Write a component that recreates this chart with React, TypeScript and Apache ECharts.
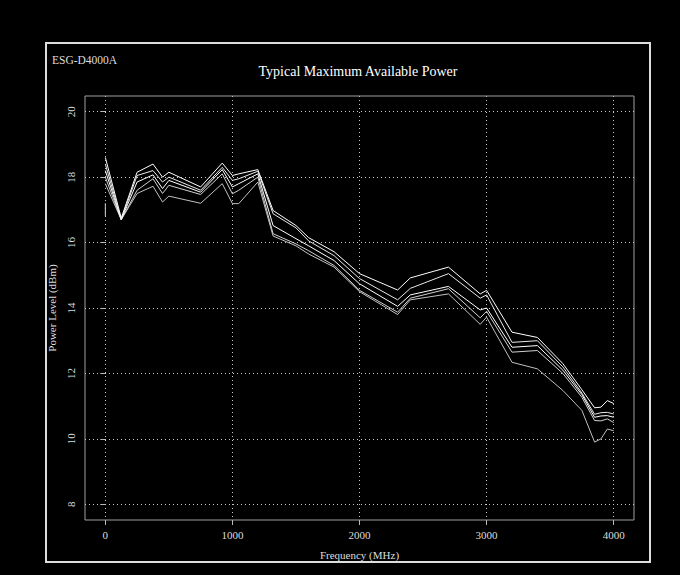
import React, { useEffect, useRef } from 'react';
import * as echarts from 'echarts';

const freq = [0, 125, 250, 375, 450, 500, 750, 920, 1000, 1050, 1200, 1320, 1500, 1600, 1800, 2000, 2300, 2400, 2700, 2950, 3000, 3200, 3400, 3600, 3750, 3850, 3900, 3950, 4000];
const seriesA = [18.6, 16.75, 18.15, 18.4, 18.0, 18.15, 17.7, 18.43, 18.05, 18.1, 18.23, 16.98, 16.52, 16.15, 15.72, 15.05, 14.55, 14.92, 15.25, 14.43, 14.54, 13.26, 13.1, 12.3, 11.5, 10.95, 10.97, 11.17, 11.08];
const seriesB = [18.4, 16.7, 18.05, 18.2, 17.85, 18.0, 17.6, 18.3, 17.9, 17.95, 18.18, 16.88, 16.45, 16.05, 15.6, 14.9, 14.25, 14.6, 15.05, 14.3, 14.4, 12.95, 13.0, 12.2, 11.4, 10.75, 10.8, 10.81, 10.76];
const seriesC = [18.2, 16.7, 17.85, 18.07, 17.65, 17.9, 17.54, 18.23, 17.7, 17.8, 18.1, 16.52, 16.12, 15.9, 15.45, 14.74, 14.05, 14.4, 14.66, 13.94, 14.0, 12.8, 12.85, 12.1, 11.35, 10.66, 10.7, 10.71, 10.66];
const seriesD = [18.0, 16.7, 17.6, 17.95, 17.5, 17.75, 17.47, 18.1, 17.49, 17.6, 18.0, 16.27, 15.96, 15.75, 15.3, 14.54, 13.87, 14.3, 14.59, 13.7, 13.9, 12.65, 12.7, 12.0, 11.27, 10.56, 10.55, 10.61, 10.5];
const seriesE = [17.8, 16.7, 17.5, 17.72, 17.24, 17.42, 17.2, 17.8, 17.19, 17.19, 17.85, 16.2, 15.9, 15.65, 15.25, 14.5, 13.8, 14.25, 14.43, 13.5, 13.72, 12.34, 12.14, 11.48, 10.87, 9.9, 10.0, 10.3, 10.25];
const stubFreq = [0, 0];
const stubVals = [17.2, 16.8];

const xTicks = [0, 1000, 2000, 3000, 4000];
const yTicks = [8, 10, 12, 14, 16, 18, 20];

const titleText = 'Typical Maximum Available Power';
const modelText = 'ESG-D4000A';
const xName = 'Frequency (MHz)';
const yName = 'Power Level (dBm)';

export default function App() {
  const ref = useRef<HTMLDivElement>(null);
  useEffect(() => {
    document.body.style.margin = '0';
    document.body.style.background = '#000';
    const chart = echarts.init(ref.current as HTMLDivElement, null, { renderer: 'svg' });
    const font = '"Liberation Serif", "DejaVu Serif", serif';
    const mk = (xs: number[], vals: number[], color: string) => ({
      type: 'line',
      data: xs.map((f, i) => [f, vals[i]]),
      symbol: 'none',
      showSymbol: false,
      lineStyle: { color, width: 1 },
      silent: true,
    });
    chart.setOption({
      animation: false,
      backgroundColor: '#000',
      grid: {
        left: 85, right: 46, top: 96, bottom: 55,
        show: true, borderColor: '#a0a0a0', borderWidth: 1, backgroundColor: 'transparent',
      },
      xAxis: {
        type: 'value', min: -160, max: 4160,
        axisLine: { show: false },
        axisTick: { show: true, customValues: xTicks, length: 5, lineStyle: { color: '#bbbbbb' } },
        axisLabel: { customValues: xTicks, color: '#dddddd', fontFamily: font, fontSize: 11, margin: 9, formatter: (v: number) => String(v) },
        splitLine: { show: true, lineStyle: { color: '#c8c8c8', type: [1, 3], width: 1 } },
        name: xName, nameLocation: 'middle', nameGap: 29,
        nameTextStyle: { color: '#dddddd', fontFamily: font, fontSize: 11 },
      },
      yAxis: {
        type: 'value', min: 7.52, max: 20.48,
        axisLine: { show: false },
        axisTick: { show: true, customValues: yTicks, length: 5, lineStyle: { color: '#bbbbbb' } },
        axisLabel: { customValues: yTicks, color: '#dddddd', fontFamily: font, fontSize: 11, rotate: 90, margin: 9, formatter: (v: number) => String(v) },
        splitLine: { show: true, lineStyle: { color: '#c8c8c8', type: [1, 3], width: 1 } },
        name: yName, nameLocation: 'middle', nameGap: 27,
        nameTextStyle: { color: '#dddddd', fontFamily: font, fontSize: 11 },
      },
      graphic: [
        { type: 'rect', shape: { x: 46, y: 43, width: 604, height: 519 }, style: { fill: 'none', stroke: '#dddddd', lineWidth: 2 }, silent: true },
        { type: 'text', x: 52, y: 60, style: { text: modelText, fill: '#dddddd', font: `11.5px ${font}`, textAlign: 'left', textVerticalAlign: 'middle' } },
        { type: 'text', x: 358, y: 71, style: { text: titleText, fill: '#ffffff', font: `14px ${font}`, textAlign: 'center', textVerticalAlign: 'middle' } },
      ],
      series: [
        mk(freq, seriesE, '#c0c0c0'),
        mk(freq, seriesD, '#d0d0d0'),
        mk(freq, seriesC, '#ffffff'),
        mk(freq, seriesB, '#e8e8e8'),
        mk(freq, seriesA, '#ffffff'),
        mk(stubFreq, stubVals, '#d0d0d0'),
      ],
    });
    return () => chart.dispose();
  }, []);
  return <div ref={ref} style={{ width: 680, height: 575 }} />;
}
